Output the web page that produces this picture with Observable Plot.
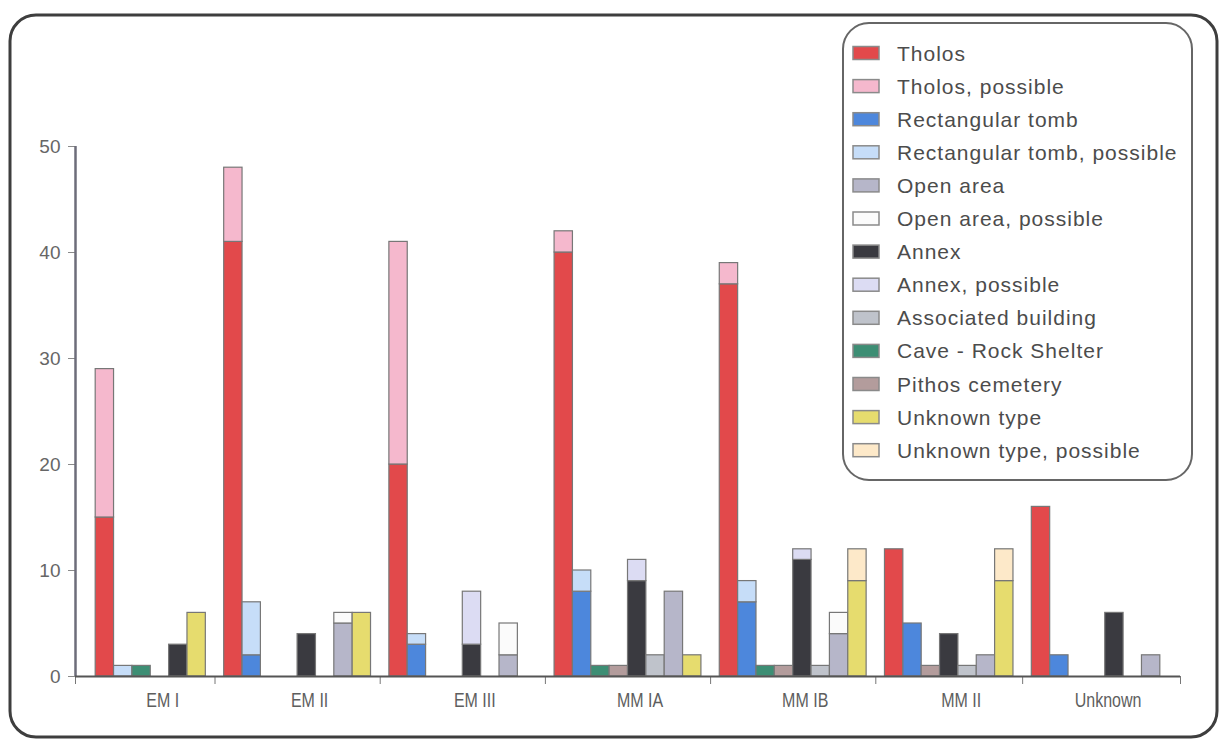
<!DOCTYPE html>
<html><head><meta charset="utf-8">
<script src="https://cdn.jsdelivr.net/npm/d3@7"></script>
<script src="https://cdn.jsdelivr.net/npm/@observablehq/plot@0.6"></script>
<style>
html,body{margin:0;padding:0;background:#fff;}
#chart svg{display:block;}
</style></head><body><div id="chart"></div>
<script>
// ---- data ----
const periods = ["EM I", "EM II", "EM III", "MM IA", "MM IB", "MM II", "Unknown"];
const legendLabels = ["Tholos", "Tholos, possible", "Rectangular tomb", "Rectangular tomb, possible",
  "Open area", "Open area, possible", "Annex", "Annex, possible", "Associated building",
  "Cave - Rock Shelter", "Pithos cemetery", "Unknown type", "Unknown type, possible"];
const legendColors = ["#e2494b", "#f5b8cd", "#4d87dc", "#c6ddf8", "#b6b6c9", "#fbfbfb", "#3a3a40",
  "#dcdcf3", "#bfc3cb", "#3d8e74", "#b39c9c", "#e6dc6e", "#fde9c9"];
// order of the bars inside each period
const barOrder = ["Tholos", "Rectangular tomb", "Cave - Rock Shelter", "Pithos cemetery", "Annex",
  "Associated building", "Open area", "Unknown type"];
// counts per period (null = no bar slot in that period)
const tholos          = [15, 41, 20, 40, 37, 12, 16];
const tholosPossible  = [14, 7, 21, 2, 2, 0, 0];
const rectTomb        = [0, 2, 3, 8, 7, 5, 2];
const rectPossible    = [1, 5, 1, 2, 2, 0, 0];
const cave            = [1, 0, 0, 1, 1, null, 0];
const pithos          = [0, 0, 0, 1, 1, 1, 0];
const annex           = [3, 4, 3, 9, 11, 4, 6];
const annexPossible   = [0, 0, 5, 2, 1, 0, 0];
const associated      = [null, 0, 0, 2, 1, 1, 0];
const openArea        = [null, 5, 2, 8, 4, 2, 2];
const openPossible    = [null, 1, 3, 0, 2, 0, 0];
const unknownType     = [6, 6, 0, 2, 9, 9, null];
const unknownPossible = [0, 0, 0, 0, 3, 3, null];
const yTicks = [0, 10, 20, 30, 40, 50];

// ---- table for the library ----
const series = {
  "Tholos": [tholos, tholosPossible],
  "Rectangular tomb": [rectTomb, rectPossible],
  "Cave - Rock Shelter": [cave, null],
  "Pithos cemetery": [pithos, null],
  "Annex": [annex, annexPossible],
  "Associated building": [associated, null],
  "Open area": [openArea, openPossible],
  "Unknown type": [unknownType, unknownPossible]
};
const rows = [], boundaries = [0], centers = [];
const lead = 0.6;
let cursor = lead;
periods.forEach((p, i) => {
  const present = barOrder.filter(t => series[t][0][i] !== null);
  const start = cursor;
  present.forEach((t, j) => {
    const x1 = start + 0.5 + j, x2 = x1 + 1;
    const [def, pos] = series[t];
    const d = def[i] || 0, q = (pos && pos[i]) || 0;
    if (d > 0) rows.push({period: p, x1, x2, y1: 0, y2: d, key: t});
    if (q > 0) rows.push({period: p, x1, x2, y1: d, y2: d + q, key: t + ", possible"});
  });
  cursor = start + present.length + 1;
  centers.push((start + cursor) / 2);
  boundaries.push(cursor);
});
const total = cursor + lead;
boundaries[boundaries.length - 1] = total;

const chart = Plot.plot({
  width: 1224, height: 741,
  marginLeft: 75, marginRight: 44, marginTop: 146, marginBottom: 65,
  x: {domain: [0, total], axis: null},
  y: {domain: [0, 50], axis: null},
  color: {domain: legendLabels, range: legendColors},
  style: {fontFamily: "'Liberation Sans', Arial, sans-serif", background: "#fff", overflow: "visible"},
  marks: [
    Plot.rectY(rows, {x1: "x1", x2: "x2", y1: "y1", y2: "y2", fill: "key", stroke: "#777", strokeWidth: 1.2}),
    Plot.axisY({ticks: yTicks, tickSize: 7, tickPadding: 8, fontSize: 19, label: null, stroke: "#8a8a8a", fill: "#666"}),
    Plot.ruleX([0], {y1: 0, y2: 50, stroke: "#6d6d7a", strokeWidth: 2.5}),
    Plot.axisX({ticks: boundaries, tickFormat: () => "", tickSize: 8, label: null, stroke: "#777"}),
    Plot.axisX({ticks: centers, tickFormat: d => periods[centers.indexOf(d)], tickSize: 0, tickPadding: 16,
      dx: 12, fontSize: 20, label: null, fill: "#5e5e5e"}),
    Plot.ruleY([0], {x1: 0, x2: total, stroke: "#555", strokeWidth: 2})
  ]
});
document.getElementById("chart").appendChild(chart);

// ---- condensed period labels (the reference uses a narrow face) ----
const svg = d3.select(chart);
svg.selectAll("text").filter(function () { return periods.includes(this.textContent); })
  .each(function () {
    const len = this.getComputedTextLength();
    if (len > 0) {
      this.setAttribute("textLength", (len * 0.8).toFixed(1));
      this.setAttribute("lengthAdjust", "spacingAndGlyphs");
    }
  });

// ---- frame and legend ----
svg.append("rect").attr("x", 10).attr("y", 15).attr("width", 1207).attr("height", 722)
  .attr("rx", 26).attr("fill", "none").attr("stroke", "#3e3e3e").attr("stroke-width", 3);
const color = chart.scale("color");
const lg = svg.append("g").attr("text-anchor", "start");
lg.append("rect").attr("x", 843).attr("y", 23).attr("width", 349).attr("height", 457)
  .attr("rx", 26).attr("fill", "#fff").attr("stroke", "#666").attr("stroke-width", 2);
legendLabels.forEach((lab, i) => {
  const cy = 53 + i * 33.1;
  lg.append("rect").attr("x", 853).attr("y", cy - 6.5).attr("width", 26).attr("height", 13)
    .attr("fill", color.apply(lab)).attr("stroke", "#8a8a8a").attr("stroke-width", 1.5);
  lg.append("text").attr("x", 897).attr("y", cy).attr("dy", "0.36em").attr("text-anchor", "start")
    .attr("font-size", 21).attr("letter-spacing", 1).attr("fill", "#4c4c4c")
    .attr("font-family", "'Liberation Sans', Arial, sans-serif").text(lab);
});
</script></body></html>
